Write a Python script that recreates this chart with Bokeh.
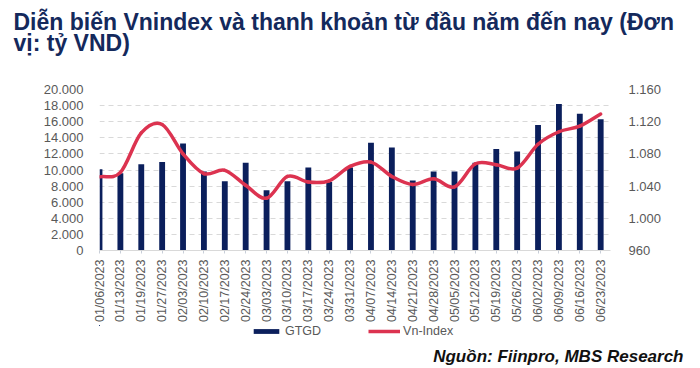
import math
from bokeh.plotting import figure
from bokeh.layouts import column
from bokeh.models import (Range1d, LinearAxis, FixedTicker, CustomJSTickFormatter,
                          Title, Legend, LegendItem)
from bokeh.embed import file_html
from bokeh.resources import INLINE

# ---- data ----
dates = ["01/06/2023", "01/13/2023", "01/19/2023", "01/27/2023", "02/03/2023",
         "02/10/2023", "02/17/2023", "02/24/2023", "03/03/2023", "03/10/2023",
         "03/17/2023", "03/24/2023", "03/31/2023", "04/07/2023", "04/14/2023",
         "04/21/2023", "04/28/2023", "05/05/2023", "05/12/2023", "05/19/2023",
         "05/26/2023", "06/02/2023", "06/09/2023", "06/16/2023", "06/23/2023"]
gtgd = [10100, 9600, 10700, 11000, 13300, 9800, 8600, 10900, 7500, 8600,
        10300, 8500, 10300, 13400, 12800, 8700, 9800, 9800, 10900, 12600,
        12300, 15600, 18200, 17000, 16300]
vnindex = [1051.5, 1057, 1106, 1116.5, 1080, 1055.5, 1059.6, 1041, 1025, 1052,
           1045, 1046.6, 1064.5, 1069.8, 1052, 1042, 1049, 1039, 1067.7, 1066.5,
           1062.4, 1092, 1107.5, 1114.5, 1129.5]
left_ticks = [0, 2000, 4000, 6000, 8000, 10000, 12000, 14000, 16000, 18000, 20000]
right_ticks = [960, 1000, 1040, 1080, 1120, 1160]

title_text = "Diễn biến Vnindex và thanh khoản từ đầu năm đến nay (Đơn\nvị: tỷ VND)"
source_txt = "Nguồn: Fiinpro, MBS Research"
series_names = ["GTGD", "Vn-Index"]

BAR = "#0B1F5C"
LINE = "#DC3350"
GRAY = "#595959"
TITLE_C = "#14295C"
FONT = "Liberation Sans"

n = len(dates)
xs = list(range(n))

p = figure(width=700, height=325, x_range=Range1d(0, 24.47), y_range=Range1d(0, 20000),
           output_backend="svg", toolbar_location=None,
           min_border_left=99, min_border_right=90, min_border_top=86, min_border_bottom=75,
           outline_line_color=None, background_fill_color="white")

fmt = CustomJSTickFormatter(code="return Math.round(tick).toString().replace(/\\B(?=(\\d{3})+(?!\\d))/g, '.');")

ly = p.yaxis[0]
ly.ticker = FixedTicker(ticks=left_ticks)
ly.formatter = fmt
ly.axis_line_color = None
ly.major_tick_line_color = None
ly.minor_tick_line_color = None
ly.major_label_standoff = 10
ly.major_label_text_font = FONT
ly.major_label_text_font_size = "13px"
ly.major_label_text_color = GRAY

p.extra_y_ranges = {"idx": Range1d(960, 1160)}
ry = LinearAxis(y_range_name="idx", ticker=FixedTicker(ticks=right_ticks), formatter=fmt,
                axis_line_color=None, major_tick_line_color=None, minor_tick_line_color=None,
                major_label_standoff=12, major_label_text_font=FONT,
                major_label_text_font_size="13px", major_label_text_color=GRAY)
p.add_layout(ry, "right")

xa = p.xaxis[0]
xa.ticker = FixedTicker(ticks=xs)
xa.major_label_overrides = {i: d for i, d in enumerate(dates)}
xa.major_label_orientation = math.pi / 2
xa.axis_line_color = "#D9D9D9"
xa.major_tick_line_color = "#C8CED8"
xa.major_tick_out = 3
xa.major_tick_in = 0
xa.minor_tick_line_color = None
xa.major_label_standoff = 6
xa.major_label_text_font = FONT
xa.major_label_text_font_size = "12.5px"
xa.major_label_text_color = GRAY

p.xgrid.grid_line_color = None
p.ygrid.ticker = FixedTicker(ticks=left_ticks)
p.ygrid.grid_line_color = "#D9D9D9"
p.ygrid.grid_line_dash = "5 4"
p.ygrid.grid_line_width = 1

p.vbar(x=xs, top=gtgd, width=0.28, fill_color=BAR, line_color=None)

def tangent(i):
    if i == 0:
        return vnindex[1] - vnindex[0]
    if i == n - 1:
        return vnindex[-1] - vnindex[-2]
    return (vnindex[i + 1] - vnindex[i - 1]) / 2.0

x0 = xs[:-1]
x1 = xs[1:]
cx0 = [i + 1 / 3 for i in x0]
cx1 = [i + 1 - 1 / 3 for i in x0]
cy0 = [vnindex[i] + tangent(i) / 3 for i in x0]
cy1 = [vnindex[i + 1] - tangent(i + 1) / 3 for i in x0]
p.bezier(x0=x0, y0=vnindex[:-1], x1=x1, y1=vnindex[1:], cx0=cx0, cy0=cy0, cx1=cx1, cy1=cy1,
         y_range_name="idx", line_color=LINE, line_width=3.5, line_cap="round")

# spacer between the title and the plot area (closest to the frame), then the title
p.add_layout(Title(text=" ", standoff=11, text_font=FONT, text_font_size="10px"), "above")
p.add_layout(Title(text=title_text, align="left", offset=-86, standoff=16,
                   vertical_align="top",
                   text_font=FONT, text_font_style="bold", text_font_size="23px",
                   text_line_height=0.82, text_color=TITLE_C), "above")

# ---- footer: legend + source ----
f = figure(width=700, height=40, x_range=Range1d(1000, 1700), y_range=Range1d(-100, -55),
           output_backend="svg", toolbar_location=None,
           min_border_left=0, min_border_right=0, min_border_top=0, min_border_bottom=0,
           x_axis_type=None, y_axis_type=None, outline_line_color=None,
           background_fill_alpha=0, border_fill_alpha=0)
f.grid.grid_line_color = None
bar_proxy = f.vbar(x=xs, top=gtgd, width=1, fill_color=BAR, line_color=None)
line_proxy = f.line(x=xs, y=vnindex, line_color=LINE, line_width=3.5)
legend = Legend(items=[LegendItem(label=series_names[0], renderers=[bar_proxy]),
                       LegendItem(label=series_names[1], renderers=[line_proxy])],
                location=(151, 6.5), orientation="horizontal",
                glyph_width=32, glyph_height=6, label_standoff=3, spacing=47,
                padding=0, margin=0, border_line_color=None, background_fill_alpha=0,
                label_text_font=FONT, label_text_font_size="12.5px",
                label_text_color=GRAY, label_height=12)
f.add_layout(legend)
f.add_layout(Title(text=source_txt, align="right", offset=-73, standoff=0,
                   text_font=FONT, text_font_style="bold italic", text_font_size="17px",
                   text_color="#111111"), "below")

layout = column(p, f, spacing=0)
open("out.html", "w").write(file_html(layout, INLINE))
